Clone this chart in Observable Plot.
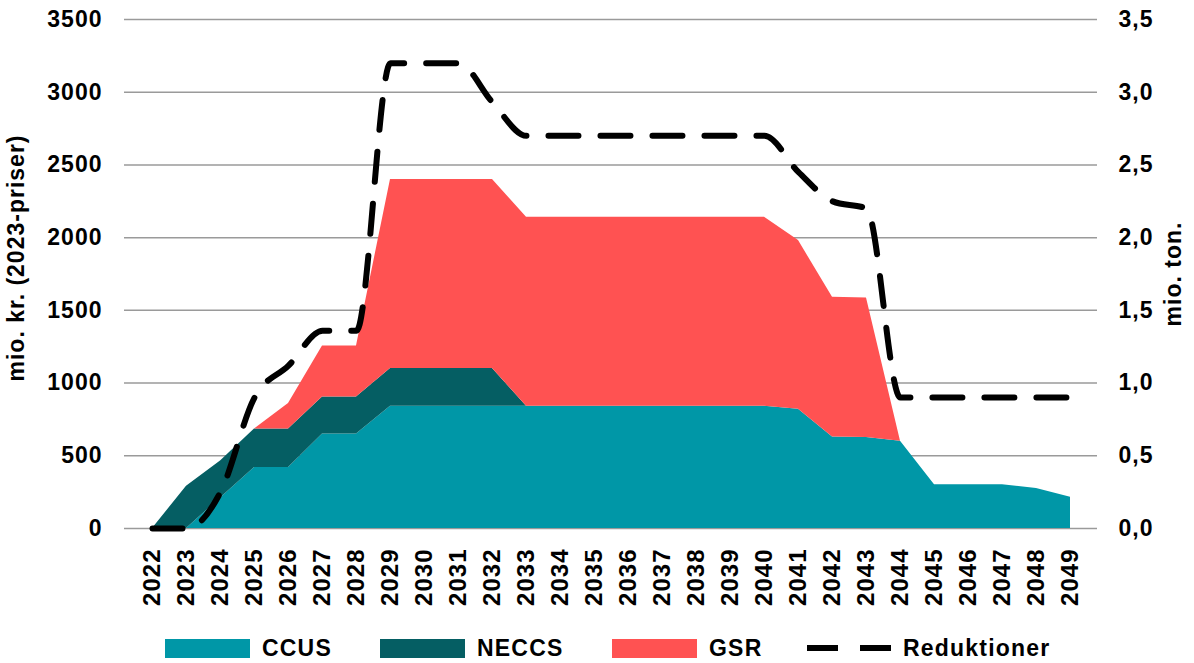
<!DOCTYPE html>
<html>
<head>
<meta charset="utf-8">
<script src="https://cdn.jsdelivr.net/npm/d3@7"></script>
<script src="https://cdn.jsdelivr.net/npm/@observablehq/plot@0.6"></script>
<style>
  body { margin: 0; background: #fff; }
  #chart { width: 1194px; height: 663px; position: relative; overflow: hidden; }
  .legend { position: relative; height: 43px; font-family: "Liberation Sans", Arial, sans-serif; font-weight: bold; font-size: 23px; letter-spacing: 1.2px; color: #000; }
  .legend .item { position: absolute; top: 13px; height: 30px; display: flex; align-items: center; white-space: nowrap; }
  .legend .sw { width: 85px; height: 19px; margin-right: 12px; }
  .legend svg { margin-right: 12px; }
</style>
</head>
<body>
<div id="chart"></div>
<script>
// ---- data ----
const years = [2022,2023,2024,2025,2026,2027,2028,2029,2030,2031,2032,2033,2034,2035,2036,2037,2038,2039,2040,2041,2042,2043,2044,2045,2046,2047,2048,2049];
const ccus  = [0,0,210,420,420,650,650,840,840,840,840,840,840,840,840,840,840,840,840,820,630,625,600,300,300,300,275,215];
const neccs = [0,290,255,265,265,255,255,260,260,260,260,0,0,0,0,0,0,0,0,0,0,0,0,0,0,0,0,0];
const gsr   = [0,0,0,0,175,350,350,1300,1300,1300,1300,1300,1300,1300,1300,1300,1300,1300,1300,1160,960,960,0,0,0,0,0,0];
const reduktioner = [0,0,0.25,0.9,1.12,1.36,1.36,3.2,3.2,3.2,2.93,2.7,2.7,2.7,2.7,2.7,2.7,2.7,2.7,2.45,2.25,2.2,0.9,0.9,0.9,0.9,0.9,0.9];
const seriesNames = ["CCUS","NECCS","GSR"];
const seriesColors = ["#0097a7","#055e63","#ff5252"];
const lineName = "Reduktioner";
const leftTicks = [0,500,1000,1500,2000,2500,3000,3500];
const rightTicks = [0,0.5,1.0,1.5,2.0,2.5,3.0,3.5];
const leftLabel = "mio. kr. (2023-priser)";
const rightLabel = "mio. ton.";

// ---- build tables ----
const areaData = [];
[ccus, neccs, gsr].forEach((arr, i) => arr.forEach((v, j) => areaData.push({year: years[j], series: seriesNames[i], value: v})));
const lineData = years.map((y, i) => ({year: y, value: reduktioner[i]}));
const k = 1000; // right axis (mio. ton.) mapped onto left scale

const font = '"Liberation Sans", Arial, sans-serif';
const plot = Plot.plot({
  width: 1194, height: 620,
  marginLeft: 124, marginRight: 97, marginTop: 19, marginBottom: 92,
  style: {fontFamily: font, fontSize: "23px", fontWeight: "bold", color: "#000", letterSpacing: "1px", background: "#fff"},
  x: {type: "point", domain: years, padding: 0.5},
  y: {domain: [0, 3500]},
  color: {domain: seriesNames, range: seriesColors},
  marks: [
    Plot.gridY(leftTicks, {stroke: "#9a9a9a", strokeOpacity: 1, strokeWidth: 1.5}),
    Plot.areaY(areaData, {x: "year", y: "value", fill: "series", order: seriesNames}),
    Plot.lineY(lineData, {x: "year", y: d => d.value * k, stroke: "#000", strokeWidth: 6, strokeDasharray: "30,22", curve: "monotone-x"}),
    Plot.axisX({tickSize: 0, tickPadding: 20, tickRotate: -90, label: null, fontSize: 24, tickFormat: d => String(d)}),
    Plot.axisY(leftTicks, {anchor: "left", tickSize: 0, tickPadding: 22, label: null, tickFormat: d => String(d)}),
    Plot.axisY(rightTicks.map(t => t * k), {anchor: "right", tickSize: 0, tickPadding: 21, label: null,
      tickFormat: d => (d / k).toFixed(1).replace(".", ",")}),
    Plot.text([leftLabel], {frameAnchor: "left", textAnchor: "middle", dx: -108, dy: -16, rotate: -90, fontSize: 23, fontWeight: "bold"}),
    Plot.text([rightLabel], {frameAnchor: "right", textAnchor: "middle", dx: 76, dy: 0, rotate: -90, fontSize: 23, fontWeight: "bold"})
  ]
});
const chart = document.getElementById("chart");
chart.appendChild(plot);

// ---- legend ----
const legend = document.createElement("div");
legend.className = "legend";
const lefts = [165, 380, 612];
seriesNames.forEach((name, i) => {
  const it = document.createElement("div");
  it.className = "item";
  it.style.left = lefts[i] + "px";
  const sw = document.createElement("div");
  sw.className = "sw";
  sw.style.background = seriesColors[i];
  it.appendChild(sw);
  it.appendChild(document.createTextNode(name));
  legend.appendChild(it);
});
const li = document.createElement("div");
li.className = "item";
li.style.left = "807px";
li.innerHTML = '<svg width="84" height="8"><line x1="0" y1="4" x2="84" y2="4" stroke="#000" stroke-width="6" stroke-dasharray="31,22"/></svg>';
li.appendChild(document.createTextNode(lineName));
legend.appendChild(li);
chart.appendChild(legend);
</script>
</body>
</html>
